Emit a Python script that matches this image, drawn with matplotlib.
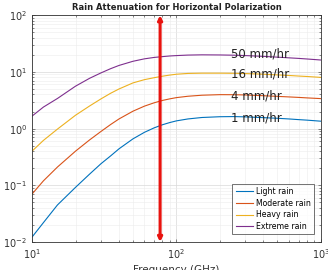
import matplotlib
matplotlib.use("Agg")
import matplotlib.pyplot as plt

freq = [10, 12, 15, 20, 25, 30, 35, 40, 50, 60, 70, 80, 90, 100, 120, 150,
        200, 250, 300, 400, 500, 600, 700, 800, 1000]
light = [0.0122, 0.022, 0.045, 0.092, 0.157, 0.24, 0.33, 0.44, 0.66, 0.86, 1.03, 1.17,
         1.28, 1.37, 1.48, 1.57, 1.62, 1.63, 1.61, 1.56, 1.52, 1.48, 1.44, 1.41, 1.35]
moderate = [0.070, 0.12, 0.21, 0.40, 0.63, 0.89, 1.18, 1.48, 2.03, 2.49, 2.85, 3.14,
            3.35, 3.52, 3.72, 3.88, 3.97, 3.96, 3.92, 3.80, 3.70, 3.62, 3.55, 3.48, 3.38]
heavy = [0.40, 0.62, 0.98, 1.72, 2.5, 3.34, 4.2, 5.0, 6.4, 7.3, 7.9, 8.4,
         8.8, 9.1, 9.4, 9.5, 9.5, 9.45, 9.35, 9.1, 8.85, 8.65, 8.45, 8.3, 8.0]
extreme = [1.66, 2.4, 3.4, 5.6, 7.7, 9.6, 11.4, 13.0, 15.4, 17.0, 18.0, 18.6,
           19.1, 19.4, 19.8, 20.0, 19.9, 19.7, 19.4, 18.8, 18.2, 17.7, 17.3, 16.9, 16.2]
series_names = ["Light rain", "Moderate rain", "Heavy rain", "Extreme rain"]
rate_labels = ["1 mm/hr", "4 mm/hr", "16 mm/hr", "50 mm/hr"]
label_freq = 240
label_vals = [1.54, 3.8, 9.2, 20.7]
marker_freq = 77

colors = ["#0072BD", "#D95319", "#EDB120", "#7E2F8E"]

fig = plt.figure(figsize=(3.28, 2.70), dpi=100)
ax = fig.add_axes([0.0976, 0.1037, 0.881, 0.840])

for vals, name, c in zip([light, moderate, heavy, extreme], series_names, colors):
    ax.plot(freq, vals, color=c, lw=0.8, label=name)

ax.set_xscale("log")
ax.set_yscale("log")
ax.set_xlim(10, 1000)
ax.set_ylim(1e-2, 1e2)

ax.grid(True, which="major", color="#d9d9d9", lw=0.5)
ax.grid(True, which="minor", color="#ececec", lw=0.4)
ax.set_axisbelow(True)
ax.tick_params(which="both", direction="in", top=True, right=True, colors="#555555",
               labelsize=7, length=2.5, width=0.5)
ax.tick_params(which="minor", length=1.5)
ax.tick_params(axis="both", labelcolor="#333333")
for s in ax.spines.values():
    s.set_color("#333333")
    s.set_linewidth(0.6)

for txt, v in zip(rate_labels, label_vals):
    ax.text(label_freq, v, txt, fontsize=8.5, va="center", ha="left", color="#222222")

ax.annotate("", xy=(marker_freq, 1e2), xytext=(marker_freq, 1e-2),
            arrowprops=dict(arrowstyle="<|-|>", color="#e8130f", lw=2.2,
                            mutation_scale=6, shrinkA=0, shrinkB=0))

ax.set_title("Rain Attenuation for Horizontal Polarization", fontsize=6.0,
             fontweight="bold", color="#222222", pad=4)
ax.set_xlabel("Frequency (GHz)", fontsize=7.5, color="#333333", labelpad=3)
ax.set_ylabel("Rain Attenuation (dB/km)", fontsize=7.5, color="#333333", labelpad=2)

leg = ax.legend(loc="lower right", fontsize=5.6, frameon=True, fancybox=False,
                edgecolor="#333333", handlelength=2.2, borderpad=0.4,
                labelspacing=0.35, handletextpad=0.4, borderaxespad=0,
                bbox_to_anchor=(0.975, 0.035))
leg.get_frame().set_linewidth(0.6)

fig.savefig("out.png", dpi=100)
